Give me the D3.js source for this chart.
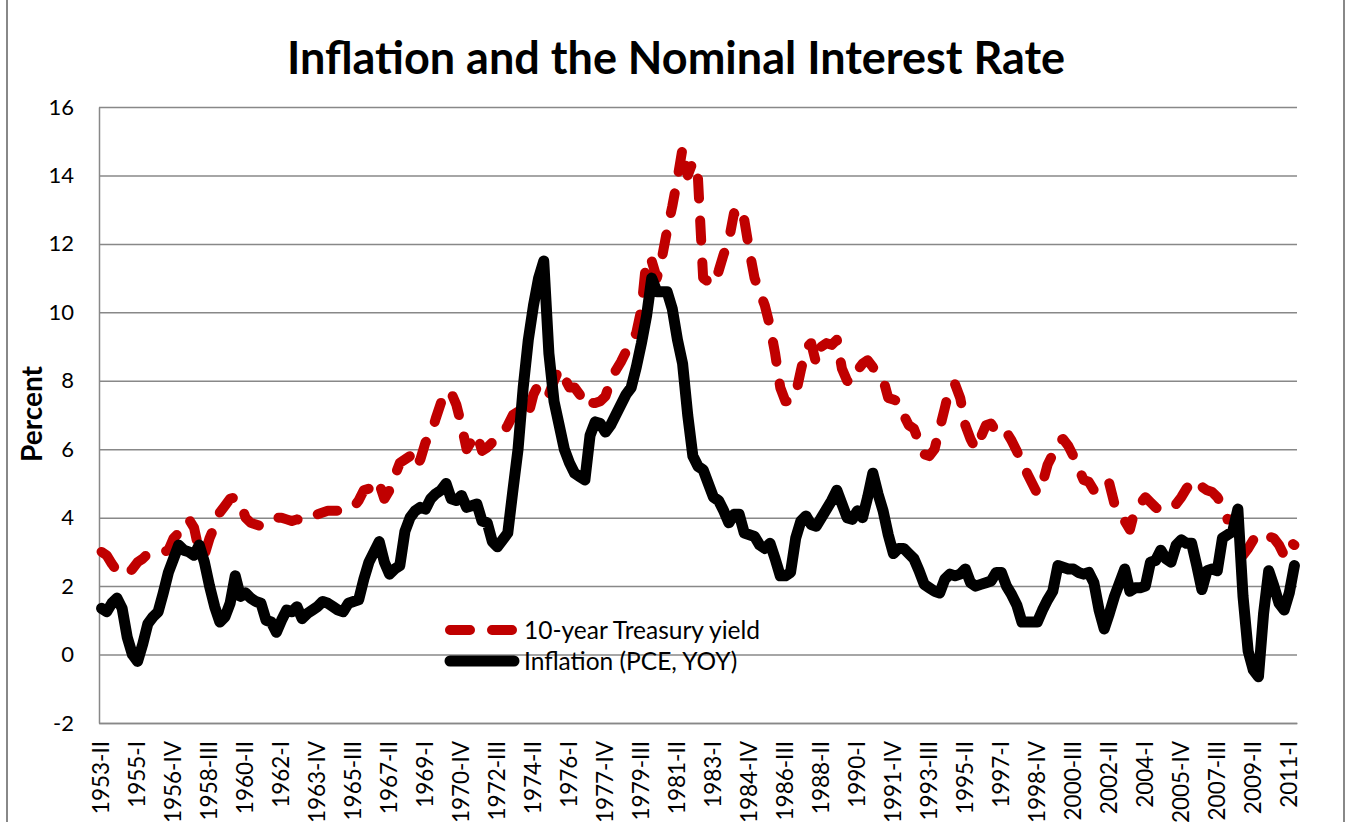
<!DOCTYPE html>
<html>
<head>
<meta charset="utf-8">
<script src="https://cdn.jsdelivr.net/npm/d3@7/dist/d3.min.js"></script>
<style>
  body { margin: 0; background: #fff; }
  svg { display: block; font-family: Lato, "Open Sans", sans-serif; }
</style>
</head>
<body>
<div id="chart"></div>
<script>
// quarters 1953-II .. 2011-II
const romans = ["I", "II", "III", "IV"];
const quarters = [];
for (let yr = 1953; yr <= 2011; yr++) {
    for (let q = 0; q < 4; q++) {
        if (yr === 1953 && q < 1) continue;
        if (yr === 2011 && q > 1) continue;
        quarters.push(`${yr}-${romans[q]}`);
    }
}

const xTickLabels = ["1953-II", "1955-I", "1956-IV", "1958-III", "1960-II", "1962-I", "1963-IV",
    "1965-III", "1967-II", "1969-I", "1970-IV", "1972-III", "1974-II", "1976-I", "1977-IV",
    "1979-III", "1981-II", "1983-I", "1984-IV", "1986-III", "1988-II", "1990-I", "1991-IV",
    "1993-III", "1995-II", "1997-I", "1998-IV", "2000-III", "2002-II", "2004-I", "2005-IV",
    "2007-III", "2009-II", "2011-I"];

const yTicks = [-2, 0, 2, 4, 6, 8, 10, 12, 14, 16];

// 10-year Treasury yield, percent
const treasury10y = [
    3.0, 2.9, 2.65, 2.45, 2.35, 2.35, 2.5, 2.7, 2.8, 2.95,
    2.95, 2.95, 3.0, 3.05, 3.4, 3.55, 3.75, 3.95, 3.7, 3.0,
    2.9, 3.4, 3.75, 4.15, 4.35, 4.55, 4.6, 4.45, 4.0, 3.85,
    3.8, 3.75, 3.85, 3.95, 4.0, 4.0, 3.95, 3.9, 3.95, 3.9,
    4.0, 4.05, 4.1, 4.15, 4.2, 4.2, 4.2, 4.2, 4.25, 4.3,
    4.5, 4.8, 4.85, 5.1, 5.0, 4.55, 4.8, 5.2, 5.6, 5.7,
    5.8, 5.45, 5.7, 6.2, 6.4, 6.9, 7.35, 7.7, 7.65, 7.3,
    6.7, 6.0, 6.25, 6.45, 5.95, 6.05, 6.2, 6.35, 6.45, 6.7,
    7.0, 7.1, 6.9, 7.0, 7.6, 7.9, 7.65, 7.6, 8.0, 8.35,
    8.1, 7.8, 7.8, 7.6, 7.25, 7.35, 7.35, 7.4, 7.55, 8.0,
    8.3, 8.55, 8.85, 9.1, 9.4, 10.1, 11.6, 11.5, 11.0, 11.6,
    12.4, 13.1, 13.9, 14.8, 14.0, 14.4, 13.9, 11.0, 10.9, 10.8,
    11.2, 11.7, 12.1, 12.9, 12.5, 12.7, 11.8, 11.0, 10.6, 10.2,
    9.6, 8.8, 7.8, 7.4, 7.4, 7.6, 8.3, 8.95, 9.1, 8.5,
    9.0, 9.1, 9.05, 9.2, 8.35, 8.0, 7.95, 8.3, 8.5, 8.6,
    8.4, 8.2, 8.05, 7.5, 7.45, 7.4, 7.0, 6.7, 6.6, 6.2,
    5.85, 5.8, 6.0, 6.6, 7.2, 7.85, 7.9, 7.5, 6.7, 6.3,
    6.0, 6.35, 6.7, 6.75, 6.5, 6.6, 6.5, 6.25, 5.95, 5.6,
    5.3, 5.0, 4.7, 5.0, 5.55, 5.85, 6.2, 6.3, 6.1, 5.8,
    5.45, 5.1, 5.05, 4.8, 4.85, 5.1, 5.0, 4.4, 4.1, 3.9,
    3.65, 4.25, 4.4, 4.6, 4.45, 4.3, 4.2, 4.25, 4.3, 4.4,
    4.6, 4.85, 5.05, 5.1, 4.9, 4.8, 4.75, 4.6, 4.35, 3.95,
    3.95, 3.7, 2.9, 3.1, 3.35, 3.55, 3.5, 3.45, 3.4, 3.2,
    2.9, 3.3, 3.2
];

// PCE inflation, year over year, percent
const inflationPCE = [
    1.35, 1.25, 1.5, 1.65, 1.35, 0.5, 0.0, -0.2, 0.3, 0.9,
    1.1, 1.25, 1.8, 2.4, 2.8, 3.2, 3.05, 3.0, 2.9, 3.2,
    2.7, 2.0, 1.4, 0.95, 1.1, 1.5, 2.3, 1.7, 1.8, 1.65,
    1.55, 1.5, 1.0, 0.95, 0.65, 1.0, 1.3, 1.25, 1.4, 1.05,
    1.2, 1.3, 1.4, 1.55, 1.5, 1.4, 1.3, 1.25, 1.5, 1.55,
    1.6, 2.2, 2.7, 3.0, 3.3, 2.7, 2.35, 2.5, 2.6, 3.6,
    4.0, 4.2, 4.3, 4.25, 4.55, 4.7, 4.8, 5.0, 4.55, 4.5,
    4.65, 4.3, 4.35, 4.4, 3.9, 3.85, 3.3, 3.15, 3.35, 3.55,
    4.8, 6.0, 7.8, 9.2, 10.2, 11.0, 11.5, 8.8, 7.4, 6.7,
    6.0, 5.6, 5.3, 5.2, 5.1, 6.4, 6.8, 6.75, 6.5, 6.7,
    7.0, 7.3, 7.6, 7.8, 8.4, 9.1, 9.9, 11.0, 10.6, 10.6,
    10.6, 10.1, 9.2, 8.5, 7.0, 5.8, 5.5, 5.4, 5.0, 4.6,
    4.5, 4.2, 3.85, 4.1, 4.1, 3.55, 3.5, 3.45, 3.2, 3.1,
    3.25, 2.8, 2.3, 2.3, 2.4, 3.4, 3.9, 4.05, 3.8, 3.75,
    4.0, 4.25, 4.5, 4.8, 4.4, 4.0, 3.95, 4.2, 4.0, 4.6,
    5.3, 4.7, 4.2, 3.5, 2.95, 3.1, 3.1, 2.95, 2.8, 2.45,
    2.05, 1.95, 1.85, 1.8, 2.2, 2.35, 2.3, 2.35, 2.5, 2.1,
    2.0, 2.05, 2.1, 2.15, 2.4, 2.4, 2.0, 1.75, 1.45, 0.95,
    0.95, 0.95, 0.95, 1.3, 1.6, 1.85, 2.6, 2.55, 2.5, 2.5,
    2.4, 2.35, 2.4, 2.1, 1.3, 0.75, 1.2, 1.7, 2.1, 2.5,
    1.85, 1.95, 1.95, 2.0, 2.7, 2.75, 3.05, 2.8, 2.7, 3.2,
    3.35, 3.25, 3.25, 2.6, 1.9, 2.45, 2.5, 2.45, 3.4, 3.5,
    3.6, 4.25, 1.7, 0.1, -0.45, -0.65, 1.2, 2.45, 2.0, 1.5,
    1.3, 1.8, 2.6
];

const margin = { top: 107, right: 50, bottom: 99, left: 99 },
      width = 1347 - margin.left - margin.right,
      height = 822 - margin.top - margin.bottom;

const gridColor = "#888888";

const root = d3.select("#chart")
    .append("svg")
    .attr("width", 1347)
    .attr("height", 822);

root.append("rect")
    .attr("width", 1347).attr("height", 822)
    .attr("fill", "#fff");

// outer chart frame
root.append("rect")
    .attr("x", 7).attr("y", -10)
    .attr("width", 1337).attr("height", 850)
    .attr("fill", "none")
    .attr("stroke", gridColor)
    .attr("stroke-width", 2);

root.append("text")
    .attr("x", 676).attr("y", 74)
    .attr("text-anchor", "middle")
    .style("font-size", "45px")
    .style("font-weight", "bold")
    .text("Inflation and the Nominal Interest Rate");

root.append("text")
    .attr("transform", "translate(32,414) rotate(-90)")
    .attr("text-anchor", "middle")
    .attr("dy", "0.35em")
    .style("font-size", "28px")
    .style("font-weight", "bold")
    .text("Percent");

const svg = root.append("g")
    .attr("transform", `translate(${margin.left},${margin.top})`);

const x = d3.scaleBand()
    .domain(quarters)
    .range([0, width])
    .padding(0);

const y = d3.scaleLinear()
    .domain([-2, 16])
    .range([height, 0]);

// gridlines + y labels (plain hyphen for negatives, like the original)
const yAxis = svg.append("g")
    .call(d3.axisLeft(y)
        .tickValues(yTicks)
        .tickFormat(d => String(d))
        .tickSize(-width)
        .tickSizeOuter(0)
        .tickPadding(25));
yAxis.selectAll(".tick line")
    .attr("stroke", gridColor)
    .attr("stroke-width", 1.5);
yAxis.select(".domain")
    .attr("stroke", gridColor)
    .attr("stroke-width", 1.5);
yAxis.selectAll("text")
    .style("font-size", "22px")
    .style("font-family", "Lato, sans-serif")
    .attr("fill", "#000");

// x axis
const xAxis = svg.append("g")
    .attr("transform", `translate(0,${height})`)
    .call(d3.axisBottom(x).tickValues(xTickLabels).tickSize(0).tickSizeOuter(0));
xAxis.select(".domain")
    .attr("stroke", gridColor)
    .attr("stroke-width", 1.5);
xAxis.selectAll("text")
    .attr("transform", "rotate(-90)")
    .attr("x", -18)
    .attr("y", 0)
    .attr("dy", "0.35em")
    .style("text-anchor", "end")
    .style("font-size", "22.5px")
    .style("font-family", "Lato, sans-serif")
    .attr("fill", "#000");

const cx = (d, i) => x(quarters[i]) + x.bandwidth() / 2;

const line = d3.line()
    .x((d, i) => cx(d, i))
    .y(d => y(d));

svg.append("path")
    .datum(treasury10y)
    .attr("fill", "none")
    .attr("stroke", "#C00000")
    .attr("stroke-width", 10)
    .attr("stroke-linecap", "round")
    .attr("stroke-linejoin", "round")
    .attr("stroke-dasharray", "20,22")
    .attr("d", line);

svg.append("path")
    .datum(inflationPCE)
    .attr("fill", "none")
    .attr("stroke", "#000")
    .attr("stroke-width", 11)
    .attr("stroke-linecap", "round")
    .attr("stroke-linejoin", "round")
    .attr("d", line);

// legend
const legend = root.append("g");
const legendItems = [
    { name: "10-year Treasury yield", color: "#C00000", dash: "20,22", w: 10, y: 630 },
    { name: "Inflation (PCE, YOY)", color: "#000", dash: null, w: 11, y: 661 }
];
legendItems.forEach(d => {
    legend.append("line")
        .attr("x1", 450).attr("x2", 514)
        .attr("y1", d.y).attr("y2", d.y)
        .attr("stroke", d.color)
        .attr("stroke-width", d.w)
        .attr("stroke-linecap", "round")
        .attr("stroke-dasharray", d.dash);
    legend.append("text")
        .attr("x", 524).attr("y", d.y)
        .attr("dy", "0.35em")
        .style("font-size", "24.5px")
        .text(d.name);
});
</script>
</body>
</html>
